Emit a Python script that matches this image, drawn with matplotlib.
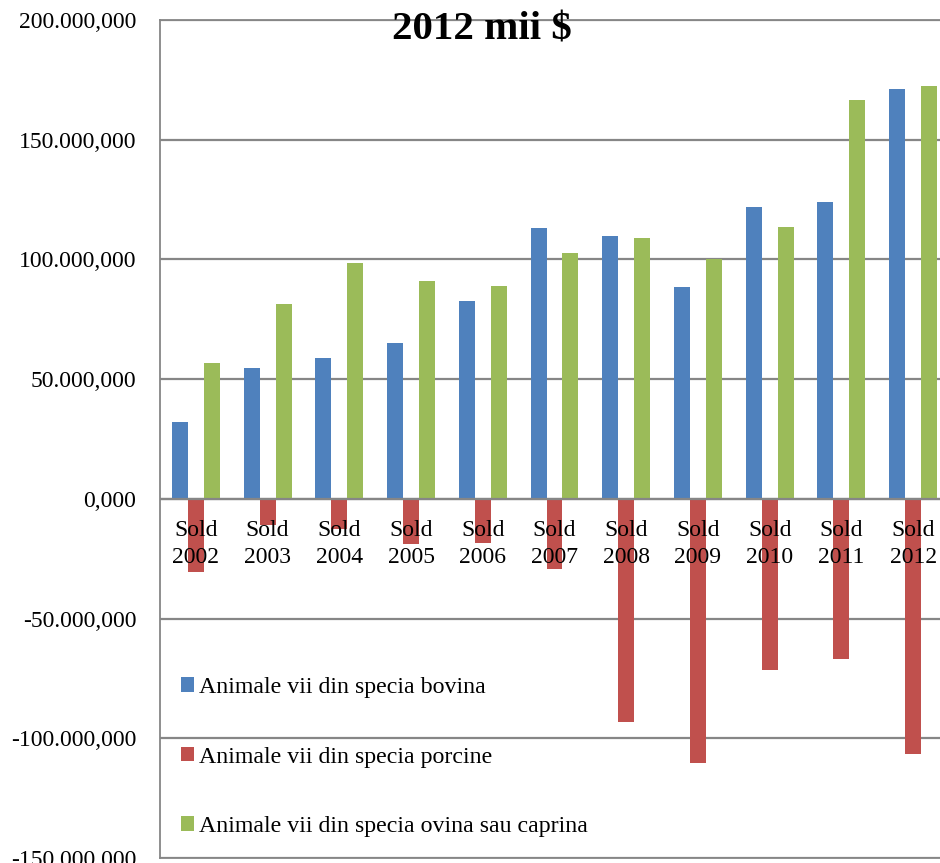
import matplotlib
matplotlib.use("Agg")
import matplotlib.pyplot as plt
import numpy as np
from matplotlib.ticker import FuncFormatter, MultipleLocator

plt.rcParams['font.family'] = ['Liberation Serif', 'DejaVu Serif']

categories = ["Sold\n2002", "Sold\n2003", "Sold\n2004", "Sold\n2005", "Sold\n2006",
              "Sold\n2007", "Sold\n2008", "Sold\n2009", "Sold\n2010", "Sold\n2011", "Sold\n2012"]
series_names = ["Animale vii din specia bovina",
                "Animale vii din specia porcine",
                "Animale vii din specia ovina sau caprina"]
bovina = [31900, 54700, 58700, 65000, 82700, 113000, 109700, 88600, 121900, 123900, 171100]
porcine = [-30500, -10900, -12700, -18900, -18600, -29100, -93400, -110400, -71600, -66700, -106500]
ovina = [56700, 81300, 98500, 90900, 88800, 102700, 109000, 100300, 113400, 166600, 172300]
title = "2012 mii $"

colors = ["#4F81BD", "#C0504D", "#9BBB59"]
grid_c = "#868686"

W, H = 940, 863
fig = plt.figure(figsize=(W / 100, H / 100), dpi=100)
ax = fig.add_axes([160 / W, 5 / H, (949 - 160) / W, (858 - 20) / H])

x = np.arange(len(categories))
bw = 0.223
for k, (vals, name, c) in enumerate(zip([bovina, porcine, ovina], series_names, colors)):
    ax.bar(x + (k - 1) * bw, vals, width=bw, color=c, label=name, zorder=3)

ax.set_xlim(-0.5, len(categories) - 0.5)
ax.set_ylim(-150000, 200000)
ax.yaxis.set_major_locator(MultipleLocator(50000))


def fmt(v, pos):
    s = f"{v:,.3f}"
    return s.replace(",", "X").replace(".", ",").replace("X", ".")


ax.yaxis.set_major_formatter(FuncFormatter(fmt))
ax.tick_params(axis='y', length=0, pad=17, labelsize=17)
ax.set_xticks([])
ax.grid(axis='y', color=grid_c, linewidth=1.6, zorder=1)
for s in ax.spines.values():
    s.set_color(grid_c)
    s.set_linewidth(1.3)
ax.axhline(0, color=grid_c, linewidth=1.6, zorder=4)

for i, lab in enumerate(categories):
    ax.annotate(lab, xy=(i, 0), xytext=(0, -32.3), textcoords='offset points',
                ha='center', va='center', fontsize=17, linespacing=1.4, zorder=5)

fig.text(482 / W, 1 - 39.5 / H, title, ha='center', va='baseline',
         fontsize=29.5, fontweight='bold')

leg = ax.legend(loc='center left', bbox_to_anchor=(181 / W, 1 - 757 / H),
                bbox_transform=fig.transFigure, frameon=False, fontsize=17.2,
                handlelength=0.55, handleheight=0.55, handletextpad=0.2,
                labelspacing=2.03, borderpad=0, borderaxespad=0)

fig.savefig("out.png", dpi=100)
